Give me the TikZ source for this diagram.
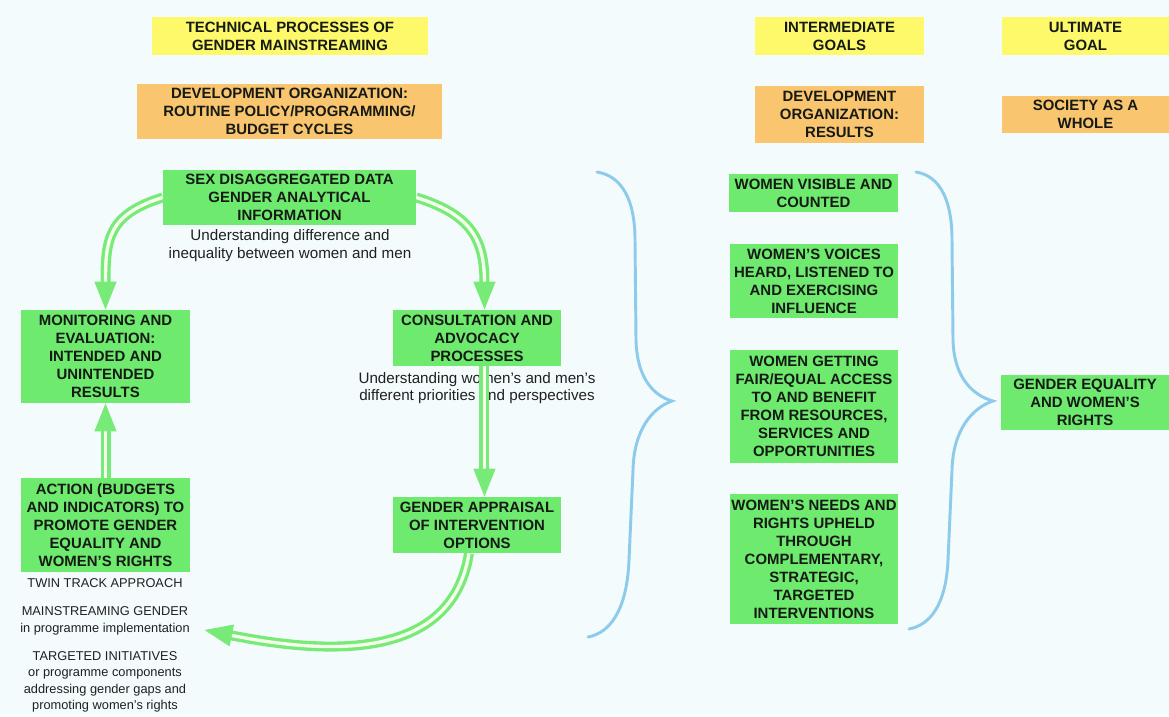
\documentclass[tikz,border=0pt]{standalone}
\usepackage{fontspec}
\setmainfont{Liberation Sans}
\usetikzlibrary{arrows.meta}
\definecolor{bgcol}{HTML}{F3FBFD}
\definecolor{yellowcol}{HTML}{FDF96B}
\definecolor{orangecol}{HTML}{F9C56E}
\definecolor{greencol}{HTML}{6EEA6E}
\definecolor{arrowcol}{HTML}{78EA78}
\definecolor{arrowin}{HTML}{F4FFEC}
\definecolor{bracecol}{HTML}{8DCBEA}
\definecolor{txtcol}{HTML}{151A15}
\definecolor{notecol}{HTML}{202020}

\begin{document}
\begin{tikzpicture}[x=0.75pt,y=-0.75pt,
	box/.style={rectangle,inner sep=0pt,align=center,text=txtcol,font=\bfseries\fontsize{11.2}{13.5}\selectfont},
	ybox/.style={box,fill=yellowcol},
	obox/.style={box,fill=orangecol},
	gbox/.style={box,fill=greencol},
	note/.style={align=center,text=notecol,font=\fontsize{11.4}{13}\selectfont},
	smallnote/.style={align=center,text=notecol,font=\fontsize{9.6}{12.3}\selectfont},
	flow/.style={draw=arrowcol,line width=2.5pt,double=arrowin,double distance=2.5pt,-{Triangle[length=21pt,width=16pt]}},
	brace/.style={draw=bracecol,line width=2.2pt,line cap=round}]
			\fill[bgcol] (0,0) rectangle (1169,715);
			\node[ybox,minimum width=207pt,minimum height=28.5pt] (tech) at (290,36) {TECHNICAL PROCESSES OF\\GENDER MAINSTREAMING};
			\node[obox,minimum width=228.75pt,minimum height=41.25pt] (devorg) at (289.5,111.5) {DEVELOPMENT ORGANIZATION:\\ROUTINE POLICY/PROGRAMMING/\\BUDGET CYCLES};
			\node[gbox,minimum width=189.75pt,minimum height=41.25pt] (sexdata) at (289.5,197.5) {SEX DISAGGREGATED DATA\\GENDER ANALYTICAL\\INFORMATION};
			\node[note] (sexnote) at (290,245.5) {Understanding difference and\\inequality between women and men};
			\node[gbox,minimum width=126.75pt,minimum height=69.75pt] (monitor) at (105.5,356.5) {MONITORING AND\\EVALUATION:\\INTENDED AND\\UNINTENDED\\RESULTS};
			\node[gbox,minimum width=126pt,minimum height=42pt] (consult) at (477,338) {CONSULTATION AND\\ADVOCACY\\PROCESSES};
			\node[note] (consultnote) at (477,388) {Understanding women's and men's\\different priorities and perspectives};
			\node[gbox,minimum width=126pt,minimum height=42pt] (appraisal) at (477,525) {GENDER APPRAISAL\\OF INTERVENTION\\OPTIONS};
			\node[gbox,minimum width=126.75pt,minimum height=70.5pt] (action) at (105.5,525) {ACTION (BUDGETS\\AND INDICATORS) TO\\PROMOTE GENDER\\EQUALITY AND\\WOMEN'S RIGHTS};
			\node[smallnote] (twin) at (105,583) {TWIN TRACK APPROACH};
			\node[smallnote] (mainstr) at (105,621) {MAINSTREAMING GENDER\\in programme implementation};
			\node[smallnote] (targeted) at (105,682) {TARGETED INITIATIVES\\or programme components\\addressing gender gaps and\\promoting women's rights};
			\node[ybox,minimum width=126.75pt,minimum height=28.5pt] (interm) at (839.5,36) {INTERMEDIATE\\GOALS};
			\node[ybox,minimum width=125.25pt,minimum height=28.5pt] (ultim) at (1085.5,36) {ULTIMATE\\GOAL};
			\node[obox,minimum width=126.75pt,minimum height=42.75pt] (devres) at (839.5,114.5) {DEVELOPMENT\\ORGANIZATION:\\RESULTS};
			\node[obox,minimum width=125.25pt,minimum height=27.75pt] (society) at (1085.5,114.5) {SOCIETY AS A\\WHOLE};
			\node[gbox,minimum width=126.75pt,minimum height=28.5pt] (visible) at (813.5,193) {WOMEN VISIBLE AND\\COUNTED};
			\node[gbox,minimum width=126pt,minimum height=55.5pt] (voices) at (814,281) {WOMEN'S VOICES\\HEARD, LISTENED TO\\AND EXERCISING\\INFLUENCE};
			\node[gbox,minimum width=126pt,minimum height=84.75pt] (access) at (814,406.5) {WOMEN GETTING\\FAIR/EQUAL ACCESS\\TO AND BENEFIT\\FROM RESOURCES,\\SERVICES AND\\OPPORTUNITIES};
			\node[gbox,minimum width=126pt,minimum height=97.5pt] (needs) at (814,559) {WOMEN'S NEEDS AND\\RIGHTS UPHELD\\THROUGH\\COMPLEMENTARY,\\STRATEGIC,\\TARGETED\\INTERVENTIONS};
			\node[gbox,minimum width=126pt,minimum height=41.25pt] (equality) at (1085,402.5) {GENDER EQUALITY\\AND WOMEN'S\\RIGHTS};
			\draw[flow] (sexdata.west) .. controls +(-55,17) and +(0,-70) .. (monitor.north);
			\draw[flow] (sexdata.east) .. controls +(55,17) and +(0,-70) .. ([xshift=5.6pt]consult.north);
			\draw[flow] ([xshift=5.6pt]consult.south) -- ([xshift=5.6pt]appraisal.north);
			\draw[flow] (action.north) -- (monitor.south);
			\draw[flow] ([xshift=-6pt]appraisal.south) .. controls +(-17,107) and +(126,25) .. ([xshift=7.5pt,yshift=-6.75pt]mainstr.east);
			\draw[brace] (597,172) .. controls (622,176) and (635,200) .. (635,240) -- (636,340) .. controls (637,380) and (655,396) .. (672,401) .. controls (652,408) and (634,430) .. (633,470) -- (629,560) .. controls (627,610) and (610,633) .. (588,637);
			\draw[brace] (916,172) .. controls (940,176) and (952,200) .. (952,240) -- (953,340) .. controls (954,380) and (975,396) .. (993,401) .. controls (972,408) and (953,430) .. (952,470) -- (948,560) .. controls (946,605) and (930,625) .. (909,629);
		\end{tikzpicture}
\end{document}
